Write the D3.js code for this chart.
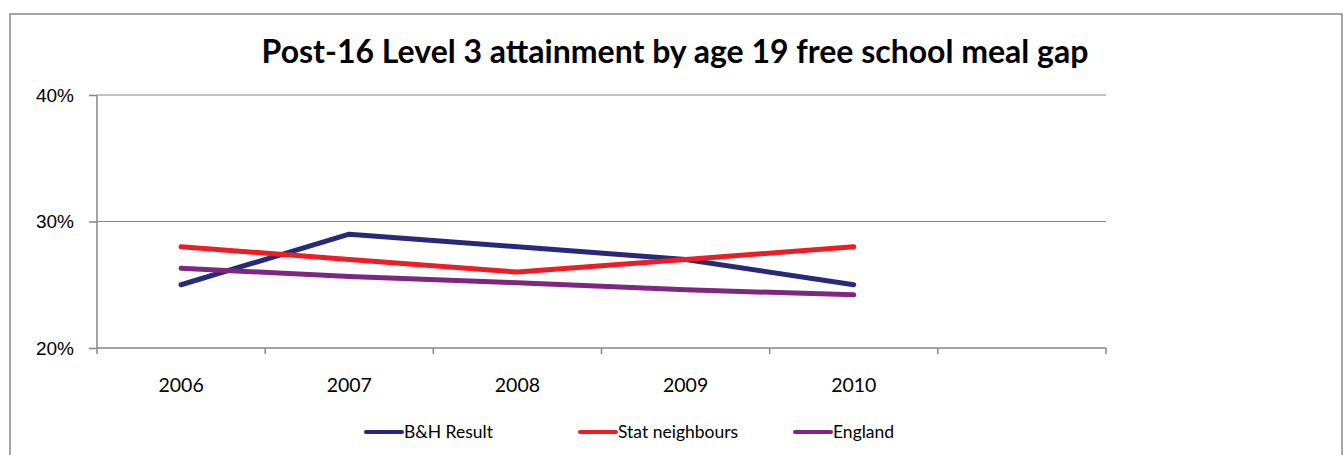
<!DOCTYPE html>
<meta charset="utf-8">
<style>
  body { margin: 0; background: #fff; }
  svg { display: block; font-family: Lato, "Open Sans", sans-serif; }
  .axis path, .axis line { stroke: #868686; stroke-width: 1.5; }
  .grid line { stroke: #868686; stroke-width: 1; }
  .axis text { fill: #000; }
</style>
<body></body>
<script src="https://d3js.org/d3.v4.min.js"></script>
<script>

// data
var years = ["2006", "2007", "2008", "2009", "2010", ""];
var bhResult = [25, 29, 28, 27, 25];
var statNeighbours = [28, 27, 26, 27, 28];
var england = [26.3, 25.65, 25.15, 24.6, 24.2];
var yTicks = [20, 30, 40];

var seriesNames = ["B&H Result", "Stat neighbours", "England"];
var seriesColors = ["#262A79", "#EE1C25", "#7F2682"];
var series = [bhResult, statNeighbours, england];

var W = 1343, H = 455;
var margin = {top: 95, left: 97, right: 237, bottom: 107};
var w = W - margin.left - margin.right,
    h = H - margin.top - margin.bottom;

var svg = d3.select("body").append("svg")
    .attr("width", W)
    .attr("height", H);

// chart border
svg.append("rect")
    .attr("x", 10).attr("y", 14)
    .attr("width", 1332).attr("height", 500)
    .attr("fill", "none")
    .attr("stroke", "#888")
    .attr("stroke-width", 1.5);

svg.append("text")
    .attr("x", 675).attr("y", 63)
    .attr("text-anchor", "middle")
    .attr("font-weight", "bold")
    .attr("font-size", 32)
    .text("Post-16 Level 3 attainment by age 19 free school meal gap");

var chart = svg.append("g")
    .attr("transform", "translate(" + margin.left + "," + margin.top + ")");

var xscale = d3.scaleBand().domain(years).range([0, w]);
var yscale = d3.scaleLinear().domain([20, 40]).range([h, 0]);

// gridlines
chart.append("g").attr("class", "grid")
  .selectAll("line").data(yTicks.slice(1)).enter().append("line")
    .attr("x1", 0).attr("x2", w)
    .attr("y1", function(d) { return yscale(d); })
    .attr("y2", function(d) { return yscale(d); });

var yaxis = d3.axisLeft(yscale)
    .tickValues(yTicks)
    .tickSize(8)
    .tickPadding(15)
    .tickFormat(function(d) { return d + "%"; });

chart.append("g").attr("class", "axis")
    .call(yaxis)
    .call(function(g) {
      g.select(".domain").attr("d", "M0," + h + "V0");
      g.selectAll("text").attr("font-size", 19);
    });

// x axis: ticks on band boundaries, labels at band centres
var xg = chart.append("g").attr("class", "axis")
    .attr("transform", "translate(0," + h + ")");
xg.append("path").attr("d", "M0,0H" + w);
xg.selectAll("line").data(d3.range(years.length + 1)).enter().append("line")
    .attr("x1", function(i) { return i * xscale.step(); })
    .attr("x2", function(i) { return i * xscale.step(); })
    .attr("y1", 0).attr("y2", 6);
xg.selectAll("text").data(years).enter().append("text")
    .attr("x", function(d) { return xscale(d) + xscale.bandwidth() / 2; })
    .attr("y", 44)
    .attr("text-anchor", "middle")
    .attr("font-size", 19.5)
    .text(function(d) { return d; });

var line = d3.line()
    .x(function(d, i) { return xscale(years[i]) + xscale.bandwidth() / 2; })
    .y(function(d) { return yscale(d); });

chart.selectAll("path.series").data(series).enter().append("path")
    .attr("class", "series")
    .attr("d", line)
    .attr("fill", "none")
    .attr("stroke", function(d, i) { return seriesColors[i]; })
    .attr("stroke-width", 5)
    .attr("stroke-linecap", "round")
    .attr("stroke-linejoin", "round");

// legend
var legendX = [366, 580, 795];
var legend = svg.selectAll("g.legend").data(seriesNames).enter().append("g")
    .attr("class", "legend")
    .attr("transform", function(d, i) { return "translate(" + legendX[i] + ",432)"; });
legend.append("line")
    .attr("x1", 0).attr("x2", 36)
    .attr("stroke", function(d, i) { return seriesColors[i]; })
    .attr("stroke-width", 4)
    .attr("stroke-linecap", "round");
legend.append("text")
    .attr("x", 38).attr("dy", "0.35em")
    .attr("font-size", 17.5)
    .text(function(d) { return d; });

</script>
